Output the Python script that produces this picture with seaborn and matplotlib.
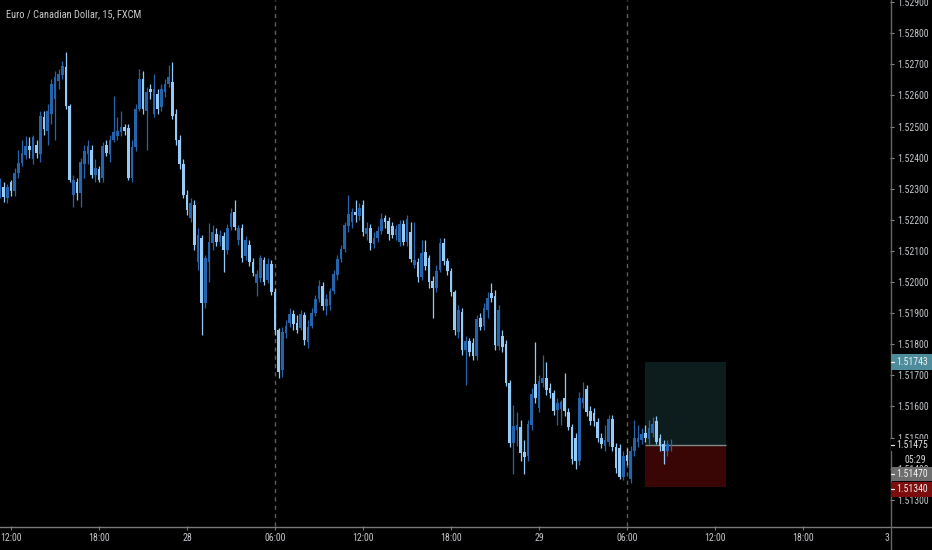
import numpy as np
import pandas as pd
import matplotlib
matplotlib.use("Agg")
import matplotlib.pyplot as plt
import seaborn as sns
from matplotlib.patches import Rectangle
from matplotlib.lines import Line2D
from matplotlib import font_manager

# ---------------- data ----------------
title = "Euro / Canadian Dollar, 15, FXCM"
first_bar = "2018-08-27 11:15"
day_start = "2018-08-27 00:00"

opens = [
    1.52287, 1.52307, 1.52271, 1.52320, 1.52291, 1.52352, 1.52384, 1.52407, 1.52436, 1.52394,
    1.52442, 1.52410, 1.52529, 1.52484, 1.52539, 1.52587, 1.52645, 1.52665, 1.52691, 1.52565,
    1.52281, 1.52320, 1.52287, 1.52378, 1.52410, 1.52426, 1.52345, 1.52362, 1.52336, 1.52442,
    1.52410, 1.52458, 1.52471, 1.52481, 1.52497, 1.52494, 1.52336, 1.52433, 1.52555, 1.52652,
    1.52549, 1.52620, 1.52539, 1.52604, 1.52562, 1.52610, 1.52636, 1.52642, 1.52539, 1.52458,
    1.52378, 1.52281, 1.52207, 1.52249, 1.52065, 1.52142, 1.51933, 1.52065, 1.52126, 1.52155,
    1.52129, 1.52149, 1.52103, 1.52178, 1.52226, 1.52136, 1.52174, 1.52084, 1.52120, 1.52065,
    1.51997, 1.52013, 1.52071, 1.52007, 1.52058, 1.51968, 1.51845, 1.51716, 1.51836, 1.51868,
    1.51897, 1.51868, 1.51852, 1.51894, 1.51807, 1.51858, 1.51900, 1.51945, 1.51987, 1.51923,
    1.51926, 1.51971, 1.52023, 1.52074, 1.52107, 1.52181, 1.52194, 1.52226, 1.52213, 1.52249,
    1.52155, 1.52174, 1.52123, 1.52142, 1.52165, 1.52207, 1.52197, 1.52181, 1.52152, 1.52129,
    1.52187, 1.52129, 1.52162, 1.52055, 1.52065, 1.52016, 1.52097, 1.52078, 1.52003, 1.51981,
    1.52039, 1.52126, 1.52068, 1.52036, 1.51968, 1.51839, 1.51903, 1.51781, 1.51810, 1.51803,
    1.51762, 1.51884, 1.51858, 1.51910, 1.51965, 1.51955, 1.51794, 1.51826, 1.51800, 1.51674,
    1.51481, 1.51523, 1.51533, 1.51452, 1.51439, 1.51539, 1.51671, 1.51594, 1.51674, 1.51691,
    1.51658, 1.51642, 1.51587, 1.51591, 1.51626, 1.51581, 1.51533, 1.51497, 1.51426, 1.51610,
    1.51655, 1.51584, 1.51578, 1.51549, 1.51500, 1.51474, 1.51487, 1.51558, 1.51468, 1.51465,
    1.51374, 1.51445, 1.51365, 1.51455, 1.51484, 1.51491, 1.51513, 1.51494, 1.51516, 1.51552,
    1.51497, 1.51478, 1.51458, 1.51468,
]
highs = [
    1.52336, 1.52320, 1.52316, 1.52329, 1.52368, 1.52426, 1.52458, 1.52468, 1.52465, 1.52474,
    1.52458, 1.52549, 1.52549, 1.52571, 1.52652, 1.52678, 1.52684, 1.52710, 1.52739, 1.52571,
    1.52345, 1.52336, 1.52400, 1.52442, 1.52458, 1.52442, 1.52394, 1.52374, 1.52449, 1.52458,
    1.52474, 1.52597, 1.52529, 1.52549, 1.52507, 1.52507, 1.52458, 1.52571, 1.52684, 1.52678,
    1.52626, 1.52636, 1.52668, 1.52620, 1.52636, 1.52652, 1.52697, 1.52707, 1.52555, 1.52474,
    1.52394, 1.52297, 1.52271, 1.52265, 1.52174, 1.52152, 1.52087, 1.52191, 1.52184, 1.52174,
    1.52168, 1.52162, 1.52187, 1.52239, 1.52265, 1.52184, 1.52187, 1.52149, 1.52136, 1.52078,
    1.52039, 1.52087, 1.52081, 1.52078, 1.52071, 1.51981, 1.51852, 1.51855, 1.51878, 1.51916,
    1.51910, 1.51894, 1.51910, 1.51903, 1.51878, 1.51916, 1.51958, 1.52007, 1.52000, 1.51962,
    1.51981, 1.52039, 1.52087, 1.52120, 1.52194, 1.52281, 1.52239, 1.52265, 1.52255, 1.52265,
    1.52194, 1.52187, 1.52162, 1.52181, 1.52223, 1.52216, 1.52210, 1.52194, 1.52184, 1.52200,
    1.52200, 1.52216, 1.52194, 1.52194, 1.52078, 1.52136, 1.52136, 1.52087, 1.52020, 1.52055,
    1.52142, 1.52142, 1.52078, 1.52045, 1.51974, 1.51926, 1.51916, 1.51826, 1.51820, 1.51820,
    1.51894, 1.51900, 1.51933, 1.51968, 1.51997, 1.51974, 1.51926, 1.51845, 1.51813, 1.51684,
    1.51603, 1.51581, 1.51555, 1.51491, 1.51555, 1.51658, 1.51807, 1.51700, 1.51765, 1.51742,
    1.51674, 1.51652, 1.51626, 1.51620, 1.51707, 1.51594, 1.51545, 1.51513, 1.51645, 1.51678,
    1.51668, 1.51600, 1.51594, 1.51562, 1.51513, 1.51539, 1.51571, 1.51571, 1.51481, 1.51478,
    1.51458, 1.51465, 1.51474, 1.51555, 1.51539, 1.51529, 1.51539, 1.51555, 1.51565, 1.51568,
    1.51510, 1.51491, 1.51491, 1.51494,
]
lows = [
    1.52271, 1.52258, 1.52255, 1.52278, 1.52278, 1.52336, 1.52374, 1.52394, 1.52400, 1.52378,
    1.52400, 1.52387, 1.52474, 1.52442, 1.52507, 1.52458, 1.52620, 1.52652, 1.52555, 1.52320,
    1.52242, 1.52265, 1.52242, 1.52336, 1.52378, 1.52336, 1.52323, 1.52320, 1.52323, 1.52404,
    1.52387, 1.52449, 1.52458, 1.52471, 1.52474, 1.52329, 1.52323, 1.52420, 1.52549, 1.52539,
    1.52426, 1.52587, 1.52529, 1.52539, 1.52549, 1.52594, 1.52626, 1.52523, 1.52442, 1.52362,
    1.52271, 1.52216, 1.52194, 1.52103, 1.52039, 1.51829, 1.51916, 1.52000, 1.52103, 1.52116,
    1.52116, 1.52033, 1.52091, 1.52168, 1.52168, 1.52120, 1.52065, 1.52071, 1.52052, 1.52020,
    1.51955, 1.52000, 1.51991, 1.51997, 1.51958, 1.51829, 1.51691, 1.51694, 1.51820, 1.51855,
    1.51845, 1.51836, 1.51845, 1.51797, 1.51787, 1.51852, 1.51891, 1.51936, 1.51910, 1.51894,
    1.51910, 1.51962, 1.52007, 1.52065, 1.52097, 1.52162, 1.52174, 1.52194, 1.52200, 1.52149,
    1.52136, 1.52103, 1.52110, 1.52129, 1.52155, 1.52174, 1.52136, 1.52142, 1.52136, 1.52116,
    1.52120, 1.52116, 1.52065, 1.52045, 1.52000, 1.52007, 1.52039, 1.51981, 1.51884, 1.51968,
    1.52033, 1.52055, 1.52023, 1.51955, 1.51829, 1.51820, 1.51765, 1.51668, 1.51762, 1.51749,
    1.51749, 1.51845, 1.51845, 1.51884, 1.51936, 1.51781, 1.51781, 1.51774, 1.51665, 1.51471,
    1.51384, 1.51474, 1.51426, 1.51384, 1.51426, 1.51523, 1.51610, 1.51581, 1.51662, 1.51636,
    1.51626, 1.51571, 1.51539, 1.51539, 1.51568, 1.51523, 1.51416, 1.51400, 1.51410, 1.51594,
    1.51568, 1.51539, 1.51536, 1.51484, 1.51465, 1.51458, 1.51474, 1.51458, 1.51387, 1.51365,
    1.51362, 1.51410, 1.51355, 1.51442, 1.51468, 1.51478, 1.51484, 1.51478, 1.51503, 1.51478,
    1.51458, 1.51416, 1.51442, 1.51458,
]
closes = [
    1.52320, 1.52274, 1.52304, 1.52291, 1.52352, 1.52384, 1.52416, 1.52436, 1.52426, 1.52465,
    1.52416, 1.52533, 1.52491, 1.52549, 1.52636, 1.52658, 1.52668, 1.52694, 1.52565, 1.52329,
    1.52329, 1.52287, 1.52387, 1.52420, 1.52436, 1.52345, 1.52368, 1.52329, 1.52436, 1.52416,
    1.52458, 1.52481, 1.52484, 1.52497, 1.52487, 1.52336, 1.52433, 1.52555, 1.52652, 1.52555,
    1.52610, 1.52610, 1.52620, 1.52555, 1.52620, 1.52636, 1.52658, 1.52533, 1.52458, 1.52378,
    1.52281, 1.52233, 1.52255, 1.52120, 1.52152, 1.51933, 1.52078, 1.52129, 1.52162, 1.52129,
    1.52152, 1.52103, 1.52174, 1.52223, 1.52178, 1.52174, 1.52078, 1.52136, 1.52065, 1.52029,
    1.52026, 1.52078, 1.52000, 1.52058, 1.51968, 1.51845, 1.51710, 1.51839, 1.51858, 1.51897,
    1.51865, 1.51845, 1.51897, 1.51813, 1.51855, 1.51900, 1.51945, 1.51987, 1.51923, 1.51945,
    1.51971, 1.52026, 1.52074, 1.52107, 1.52184, 1.52220, 1.52226, 1.52216, 1.52239, 1.52162,
    1.52174, 1.52126, 1.52142, 1.52165, 1.52203, 1.52194, 1.52155, 1.52152, 1.52171, 1.52187,
    1.52129, 1.52203, 1.52074, 1.52071, 1.52016, 1.52094, 1.52052, 1.52000, 1.51981, 1.52036,
    1.52126, 1.52068, 1.52036, 1.51968, 1.51845, 1.51910, 1.51781, 1.51810, 1.51774, 1.51762,
    1.51881, 1.51855, 1.51916, 1.51949, 1.51949, 1.51797, 1.51910, 1.51791, 1.51674, 1.51481,
    1.51536, 1.51539, 1.51449, 1.51436, 1.51542, 1.51639, 1.51626, 1.51681, 1.51691, 1.51652,
    1.51642, 1.51584, 1.51610, 1.51613, 1.51584, 1.51533, 1.51432, 1.51423, 1.51626, 1.51626,
    1.51581, 1.51552, 1.51552, 1.51500, 1.51478, 1.51491, 1.51558, 1.51471, 1.51403, 1.51374,
    1.51439, 1.51423, 1.51455, 1.51497, 1.51500, 1.51510, 1.51500, 1.51529, 1.51545, 1.51487,
    1.51474, 1.51455, 1.51478, 1.51470,
]

# long position tool
pos_start = "2018-08-29 07:15"
pos_end = "2018-08-29 12:45"
entry_price = 1.51475
target_price = 1.51743
stop_price = 1.51340
current_price = 1.51470
countdown = "05:29"

session_breaks = ["2018-08-28 06:00", "2018-08-29 06:00"]

price_ticks = [1.513, 1.514, 1.515, 1.516, 1.517, 1.518, 1.519, 1.520,
               1.521, 1.522, 1.523, 1.524, 1.525, 1.526, 1.527, 1.528, 1.529]
time_ticks = ["2018-08-27 12:00", "2018-08-27 18:00", "2018-08-28 00:00",
              "2018-08-28 06:00", "2018-08-28 12:00", "2018-08-28 18:00",
              "2018-08-29 00:00", "2018-08-29 06:00", "2018-08-29 12:00",
              "2018-08-29 18:00"]
time_labels = ["12:00", "18:00", "28", "06:00", "12:00", "18:00", "29",
               "06:00", "12:00", "18:00"]
edge_label = "3"

# ---------------- style ----------------
W, H = 932, 550
BG = "#000000"
UP = "#2564ab"
DOWN = "#96cbf8"
TXT = "#c2c5ca"

sns.set_theme(style="dark", rc={
    "axes.facecolor": BG, "figure.facecolor": BG, "savefig.facecolor": BG,
    "axes.grid": False, "axes.edgecolor": BG,
})

names = {f.name for f in font_manager.fontManager.ttflist}
face = "Liberation Sans"
for cand in ["Liberation Sans Narrow", "Roboto Condensed", "Open Sans Condensed",
             "Noto Sans Condensed", "Liberation Sans"]:
    if cand in names:
        face = cand
        break
plt.rcParams["font.family"] = [face, "DejaVu Sans"]

fig = plt.figure(figsize=(W / 100, H / 100), dpi=100)
renderer = fig.canvas.get_renderer()


def fit_size(sample, target_px, lo, hi):
    t = fig.text(0, 0, sample, fontsize=10)
    w = t.get_window_extent(renderer).width
    t.remove()
    return float(min(hi, max(lo, 10 * target_px / w)))


FS = fit_size("1.52800", 31, 6.0, 7.4)      # price-axis text
FX = fit_size("12:00", 21.5, 6.0, 7.4)      # time-axis text
FT = fit_size(title, 136, 6.4, 8.2)         # title

base = pd.Timestamp(day_start)


def hours(ts):
    return (pd.to_datetime(ts) - base) / pd.Timedelta(hours=1)


times = pd.date_range(first_bar, periods=len(closes), freq="15min")
df = pd.DataFrame({"t": hours(times), "o": opens, "h": highs, "l": lows, "c": closes})

ax = fig.add_axes([0, 1 - 526 / H, 890 / W, 526 / H])
ax.set_facecolor(BG)

x_left, x_right = 11.25, 11.25 + 890 / 14.667
y_bot, y_top = 1.52 - 244 / 31100, 1.52 + 282 / 31100
ax.set_xlim(x_left, x_right)
ax.set_ylim(y_bot, y_top)

# session break lines
for sb in session_breaks:
    ax.axvline(hours(sb), color="#5e5e5e", lw=1, ls=(0, (3, 3)), zorder=1)

# position tool
ps, pe = hours(pos_start), hours(pos_end)
ax.add_patch(Rectangle((ps, entry_price), pe - ps, target_price - entry_price,
                       facecolor="#0d1c1c", edgecolor="none", zorder=1.5))
ax.add_patch(Rectangle((ps, stop_price), pe - ps, entry_price - stop_price,
                       facecolor="#3a0505", edgecolor="none", zorder=1.5))
ax.hlines(entry_price, ps, pe, color="#7f8b89", lw=1, zorder=2)

# candles
up = df["c"] >= df["o"]
cols = np.where(up, UP, DOWN)
ax.vlines(df["t"], df["l"], df["h"], colors=cols, lw=0.9, zorder=3)
body_lo = np.minimum(df["o"], df["c"])
body_h = np.maximum((df["c"] - df["o"]).abs(), 0.00003)
ax.bar(df["t"], body_h, bottom=body_lo, width=0.165, color=cols, linewidth=0, zorder=4)

# axes / ticks
for s in ax.spines.values():
    s.set_visible(False)
ax.set_xticks([hours(t) for t in time_ticks])
ax.set_xticklabels(time_labels)
ax.yaxis.tick_right()
ax.set_yticks(price_ticks)
ax.set_yticklabels([f"{p:.5f}" for p in price_ticks])
ax.tick_params(axis="x", direction="out", length=3, width=0.8, color="#777777",
               labelcolor=TXT, labelsize=FX, pad=2.2, bottom=True)
ax.tick_params(axis="y", direction="out", length=3, width=0.8, color="#8a8a8a",
               labelcolor=TXT, labelsize=FS, pad=2.0, right=True, left=False)

# frame lines
fig.add_artist(Line2D([0, 1], [1 - 526.5 / H] * 2, transform=fig.transFigure,
                      color="#7a7a7a", lw=1, zorder=8))
fig.add_artist(Line2D([890.5 / W] * 2, [0, 1], transform=fig.transFigure,
                      color="#666666", lw=1, zorder=8))

fig.text(889 / W, 1 - 538 / H, edge_label, ha="right", va="center",
         color=TXT, fontsize=FX)

# title
fig.text(6 / W, 1 - 14 / H, title, ha="left", va="center", color="#cacaca",
         fontsize=FT)


# price tags
def ypix(price):
    return ax.transData.transform((x_left, price))[1]


def tag(price, text, fc, tc, dy=0.0, h=15):
    y = ypix(price) - dy
    if fc is not None:
        fig.add_artist(Rectangle((891 / W, (y - h / 2) / H), 41 / W, h / H,
                                 transform=fig.transFigure, facecolor=fc,
                                 edgecolor="none", zorder=9))
    fig.add_artist(Line2D([891 / W, 894 / W], [y / H] * 2, transform=fig.transFigure,
                          color=tc, lw=0.9, zorder=10))
    fig.text(896 / W, y / H, text, ha="left", va="center", color=tc,
             fontsize=FS, zorder=10)


tag(target_price, f"{target_price:.5f}", "#4d8c9a", "#f2f2f2", h=16)
tag(entry_price, f"{entry_price:.5f}", BG, "#e6e6e6", h=12)
tag(current_price, f"{current_price:.5f}", "#6d6d6d", "#f2f2f2", dy=27, h=14)
tag(stop_price, f"{stop_price:.5f}", "#7d0c0c", "#f2f2f2", dy=2, h=15)
fig.text(926 / W, (ypix(current_price) - 13) / H, countdown, ha="right", va="center",
         color="#d8d8d8", fontsize=FS, zorder=10)

fig.savefig("out.png", dpi=100, facecolor=BG)
